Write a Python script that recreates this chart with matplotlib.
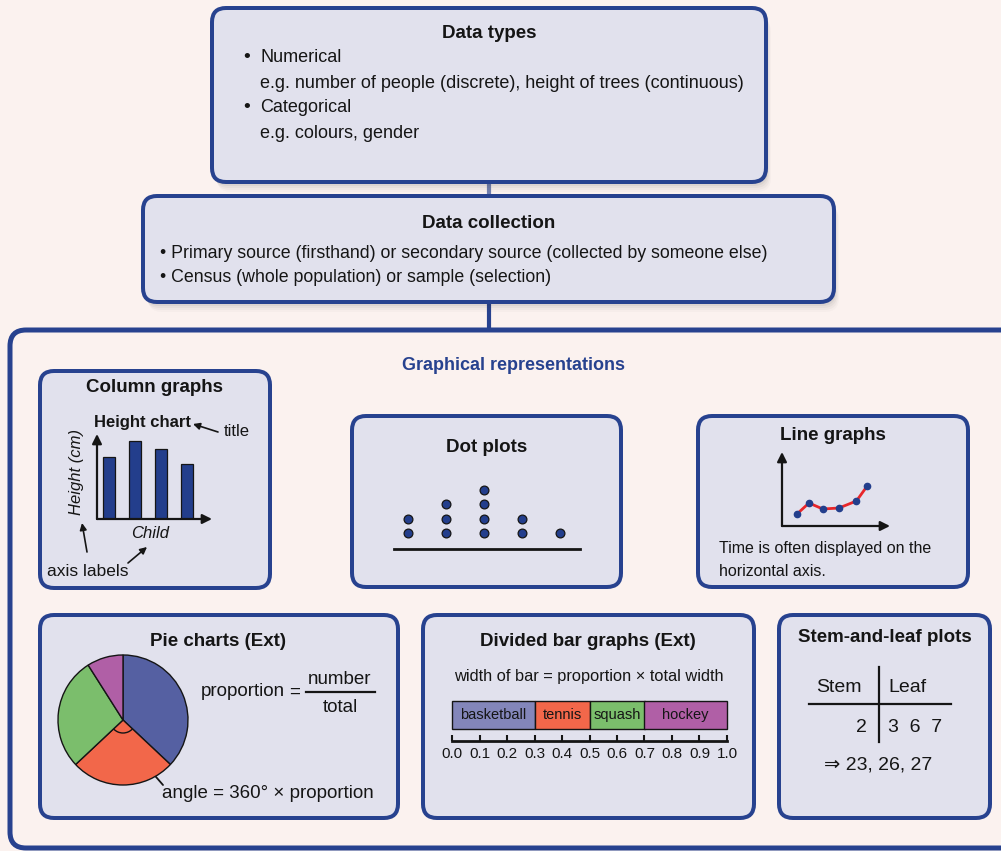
import numpy as np
import matplotlib.pyplot as plt
from matplotlib.patches import FancyBboxPatch, Arc

W, H = 1001, 851
BG = '#FBF2EF'
BOX = '#E1E1ED'
NAVY = '#27428F'
BARBLUE = '#233E8C'
INK = '#151515'

plt.rcParams['font.family'] = ['Liberation Sans', 'DejaVu Sans']

# ---- data ----
col_heights = [8, 10, 9, 7]                 # column graph example
dot_values = [1, 2, 3, 4, 5]
dot_counts = [2, 3, 4, 2, 1]                # dot plot example
line_t = [1.25, 2.25, 3.4, 4.75, 6.2, 7.1]   # line graph example
line_v = [1.2, 2.3, 1.7, 1.8, 2.5, 4.0]
pie_shares = [37, 26, 28, 9]
pie_colors = ['#5560A2', '#F2674A', '#7BBE6C', '#B05FA6']
sports = ['basketball', 'tennis', 'squash', 'hockey']
sport_props = [0.3, 0.2, 0.2, 0.3]
sport_colors = ['#8386BA', '#F2674A', '#7BBE6C', '#B05FA6']
bar_ticks = [0.0, 0.1, 0.2, 0.3, 0.4, 0.5, 0.6, 0.7, 0.8, 0.9, 1.0]
stem = '2'
leaves = ['3', '6', '7']

fig = plt.figure(figsize=(W / 100, H / 100), dpi=100, facecolor=BG)
ax = fig.add_axes([0, 0, 1, 1])
ax.set_xlim(0, W)
ax.set_ylim(H, 0)
ax.axis('off')


def box(x0, y0, x1, y1, fill=BOX, lw=4, r=14, shadow=True):
    style = 'round,pad=0,rounding_size=%d' % r
    if shadow:
        for k, a in [(10, 0.025), (8, 0.035), (6, 0.045), (4, 0.06)]:
            ax.add_patch(FancyBboxPatch((x0 + k * 0.5, y0 + k), x1 - x0, y1 - y0, boxstyle=style,
                                        fc='#303030', ec='none', alpha=a, zorder=1))
    ax.add_patch(FancyBboxPatch((x0, y0), x1 - x0, y1 - y0, boxstyle=style,
                                fc=fill, ec=NAVY, lw=lw * 0.72, zorder=2))


def txt(x, y, s, size=13, **kw):
    kw.setdefault('ha', 'left')
    kw.setdefault('va', 'center')
    kw.setdefault('color', INK)
    ax.text(x, y, s, fontsize=size, zorder=5, **kw)


def px_axes(x0, y0, x1, y1):
    a = fig.add_axes([x0 / W, 1 - y1 / H, (x1 - x0) / W, (y1 - y0) / H])
    a.set_facecolor('none')
    return a


def arrow(x0, y0, x1, y1, lw=1.3, ms=12):
    ax.annotate('', xy=(x1, y1), xytext=(x0, y0),
                arrowprops=dict(arrowstyle='-|>', color=INK, lw=lw, mutation_scale=ms,
                                shrinkA=0, shrinkB=0), zorder=6)


def axis_arrows(a, lw=1.6, ms=14):
    for end in [(0, 1), (1, 0)]:
        a.annotate('', xy=end, xytext=(0, 0), xycoords='axes fraction',
                   arrowprops=dict(arrowstyle='-|>', color=INK, lw=lw, mutation_scale=ms,
                                   shrinkA=0, shrinkB=0))


# ---- connectors ----
ax.plot([489, 489], [180, 198], color='#7380B0', lw=3, zorder=0)
ax.plot([489, 489], [300, 331], color=NAVY, lw=3, zorder=0)

# ---- top boxes ----
box(212, 8, 766, 182)
txt(489, 34, 'Data types', 13.5, ha='center', weight='bold')
txt(243, 57, '\u2022', 14)
txt(260, 57, 'Numerical', 13)
txt(260, 83, 'e.g. number of people (discrete), height of trees (continuous)', 13)
txt(243, 108, '\u2022', 14)
txt(260, 108, 'Categorical', 13)
txt(260, 133, 'e.g. colours, gender', 13)

box(143, 196, 834, 302)
txt(489, 223, 'Data collection', 13.5, ha='center', weight='bold')
txt(160, 253, '\u2022 Primary source (firsthand) or secondary source (collected by someone else)', 12.8)
txt(160, 278, '\u2022 Census (whole population) or sample (selection)', 12.8)

# ---- big container ----
box(10, 330, 1030, 848, fill=BG, lw=5, r=16, shadow=False)
txt(514, 365, 'Graphical representations', 13, ha='center', weight='bold', color=NAVY)

# ---- column graphs ----
box(40, 371, 270, 588)
txt(155, 388, 'Column graphs', 13.5, ha='center', weight='bold')
txt(142, 422, 'Height chart', 12, ha='center', weight='bold')
txt(224, 431, 'title', 12)
arrow(218, 432, 193, 424, lw=1.2, ms=10)
txt(77, 472, 'Height (cm)', 12, ha='center', rotation=90, style='italic')
txt(150, 533, 'Child', 12, ha='center', style='italic')
txt(47, 571, 'axis labels', 12.5)
arrow(87, 552, 82, 523, lw=1.2, ms=10)
arrow(128, 563, 147, 547, lw=1.2, ms=10)

axc = px_axes(97, 434, 212, 519)
axc.bar(np.arange(len(col_heights)), col_heights, width=0.46, color=BARBLUE,
        edgecolor=INK, lw=0.9)
axc.set_xlim(-0.46, 3.96)
axc.set_ylim(0, 10.9)
axc.axis('off')
axis_arrows(axc)

# ---- dot plots ----
box(352, 416, 621, 587)
txt(487, 448, 'Dot plots', 13.5, ha='center', weight='bold')
axd = px_axes(394, 480, 580, 549)
for v, c in zip(dot_values, dot_counts):
    axd.scatter([v] * c, np.arange(c), s=40, color=BARBLUE, edgecolor=INK, lw=0.9,
                zorder=3, clip_on=False)
axd.set_xlim(0.63, 5.53)
axd.set_ylim(-1.1, 3.66)
for s in ['top', 'right', 'left']:
    axd.spines[s].set_visible(False)
axd.spines['bottom'].set_linewidth(2)
axd.spines['bottom'].set_color(INK)
axd.set_xticks([])
axd.set_yticks([])

# ---- line graphs ----
box(698, 416, 968, 587)
txt(833, 435, 'Line graphs', 13.5, ha='center', weight='bold')
txt(719, 548, 'Time is often displayed on the', 11.5)
txt(719, 572, 'horizontal axis.', 11.5)
axl = px_axes(782, 452, 890, 526)
axl.plot(line_t, line_v, color='#E8262A', lw=2, marker='o', ms=4.5,
         mfc=BARBLUE, mec=BARBLUE, clip_on=False)
axl.set_xlim(0, 9)
axl.set_ylim(0, 7.4)
axl.axis('off')
axis_arrows(axl, lw=1.6, ms=14)

# ---- pie charts ----
box(40, 615, 398, 818)
txt(218, 642, 'Pie charts (Ext)', 13.5, ha='center', weight='bold')
axp = px_axes(58, 655, 188, 785)
wedges, _ = axp.pie(pie_shares, colors=pie_colors, startangle=90, counterclock=False,
                    wedgeprops=dict(edgecolor=INK, linewidth=1))
for w in wedges:
    w.set_clip_on(False)
axp.set_xlim(-1, 1)
axp.set_ylim(-1, 1)
ow = wedges[1]
axp.add_patch(Arc((0, 0), 0.4, 0.4, theta1=ow.theta1, theta2=ow.theta2, color=INK, lw=1))
txt(201, 692, 'proportion', 13.5)
txt(289, 692, '=', 13.5)
txt(340, 680, 'number', 13.5, ha='center')
ax.plot([306, 375], [692, 692], color=INK, lw=1.6, zorder=5)
txt(340, 707, 'total', 13.5, ha='center')
txt(162, 793, 'angle = 360\u00b0 \u00d7 proportion', 13.5)
arrow(163, 785, 131, 748, lw=1.3, ms=13)

# ---- divided bar graphs ----
box(423, 615, 754, 818)
txt(588, 642, 'Divided bar graphs (Ext)', 13.5, ha='center', weight='bold')
txt(589, 676, 'width of bar = proportion \u00d7 total width', 11.8, ha='center')
axb = px_axes(452, 701, 727, 741)
lefts = np.concatenate([[0], np.cumsum(sport_props)[:-1]])
bars = axb.barh(26, sport_props, left=lefts, height=28, color=sport_colors,
                edgecolor=INK, lw=1)
for b in bars:
    b.set_clip_on(False)
for name, l, w in zip(sports, lefts, sport_props):
    axb.text(l + w / 2, 26, name, ha='center', va='center', fontsize=10.5, color=INK)
axb.set_xlim(0, 1)
axb.set_ylim(0, 40)
for s in ['top', 'right', 'left']:
    axb.spines[s].set_visible(False)
axb.spines['bottom'].set_linewidth(2)
axb.spines['bottom'].set_color(INK)
axb.set_yticks([])
axb.set_xticks(bar_ticks)
axb.set_xticklabels(['%.1f' % t for t in bar_ticks])
axb.tick_params(axis='x', direction='in', length=4, width=1.5, pad=4, labelsize=11,
                colors=INK)

# ---- stem-and-leaf ----
box(779, 615, 990, 818)
txt(885, 638, 'Stem-and-leaf plots', 13.5, ha='center', weight='bold')
ax.plot([879, 879], [667, 742], color=INK, lw=1.6, zorder=5)
ax.plot([809, 951], [704, 704], color=INK, lw=1.6, zorder=5)
txt(839, 688, 'Stem', 14, ha='center')
txt(888, 688, 'Leaf', 14)
txt(867, 727, stem, 14, ha='right')
txt(888, 727, '  '.join(leaves), 14)
txt(878, 765, '\u21d2 ' + ', '.join(stem + l for l in leaves), 14, ha='center')

fig.savefig('out.png', dpi=100, facecolor=BG)
